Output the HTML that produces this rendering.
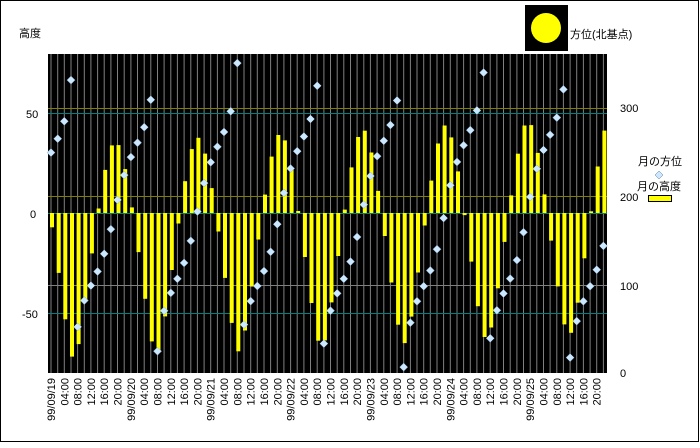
<!DOCTYPE html>
<html><head><meta charset="utf-8"><style>
body{margin:0;background:#fff}
svg text{font-family:"Liberation Sans","Noto Sans CJK JP",sans-serif;font-size:11px;fill:#000}
</style></head><body>
<svg id="s" width="700" height="443" xmlns="http://www.w3.org/2000/svg">
<rect x="0.5" y="0.5" width="698" height="441" fill="#fff" stroke="#000"/>
<rect x="48" y="54" width="559" height="319" fill="#000"/>
<g id="grid"></g>
<line x1="48" x2="607" y1="108.5" y2="108.5" stroke="#808000"/>
<line x1="48" x2="607" y1="196.5" y2="196.5" stroke="#808000"/>
<line x1="48" x2="607" y1="285.5" y2="285.5" stroke="#808080"/>
<line x1="48" x2="607" y1="113.5" y2="113.5" stroke="#008080"/>
<line x1="48" x2="607" y1="213.5" y2="213.5" stroke="#008080"/>
<line x1="48" x2="607" y1="313.5" y2="313.5" stroke="#008080"/>
<g id="bars"></g>
<g id="dia"></g>
<text x="19" y="37" font-size="12">高度</text>
<text x="26" y="118">50</text>
<text x="30" y="218">0</text>
<text x="22" y="318">-50</text>
<text x="620" y="112">300</text>
<text x="620" y="201">200</text>
<text x="620" y="290">100</text>
<text x="620" y="377">0</text>
<rect x="525" y="5" width="43" height="46" fill="#000"/>
<circle cx="546" cy="28" r="15" fill="#ffff00"/>
<text x="570" y="38" font-size="12">方位(北基点)</text>
<text x="638" y="165" font-size="12">月の方位</text>
<polygon points="659,171 663,175 659,179 655,175" fill="#cce8ff" stroke="#5a7aa0" stroke-width="0.5"/>
<text x="637" y="190" font-size="12">月の高度</text>
<rect x="648.5" y="195.5" width="23" height="6" fill="#ffff00" stroke="#000"/>
<g id="lab"></g>
</svg>
<script>
var ns="http://www.w3.org/2000/svg";
function el(p,t,a,txt){var e=document.createElementNS(ns,t);for(var k in a)e.setAttribute(k,a[k]);if(txt)e.textContent=txt;document.getElementById(p).appendChild(e);}
var d2r=Math.PI/180,phi=36*d2r;
for(var i=0;i<84;i++){
 var gx=51+i*6.655;
 el("grid","line",{x1:gx.toFixed(1),x2:gx.toFixed(1),y1:54,y2:373,stroke:"#808080"});
 var t=i*2, day=t/24;
 var dec=(-20+day*2.0)*d2r;
 var H=2*Math.PI*(t-19)/24.8;
 var alt=Math.asin(Math.sin(phi)*Math.sin(dec)+Math.cos(phi)*Math.cos(dec)*Math.cos(H))/d2r;
 var A=Math.atan2(Math.sin(H),Math.cos(H)*Math.sin(phi)-Math.tan(dec)*Math.cos(phi))/d2r+180;
 var y0=213,y1=213-2*alt;
 el("bars","rect",{x:(gx-1).toFixed(1),y:Math.min(y0,y1).toFixed(1),width:4,height:Math.abs(y1-y0).toFixed(1),fill:"#ffff00"});
 var ay=373-0.88*A;
 if(ay>52&&ay<375) el("dia","polygon",{points:[gx,ay-4,gx+4,ay,gx,ay+4,gx-4,ay].map(function(v){return v.toFixed(1)}).join(" "),fill:"#cce8ff",stroke:"#8fb0d0","stroke-width":0.5});
 if(i%2==0){
  var h=t%24, s;
  if(h==0) s="99/09/"+(19+Math.floor(day)); else s=(h<10?"0":"")+h+":00";
  el("lab","text",{transform:"translate("+(gx+4).toFixed(1)+",378) rotate(-90)","text-anchor":"end"},s);
 }
}
</script>
</body></html>
